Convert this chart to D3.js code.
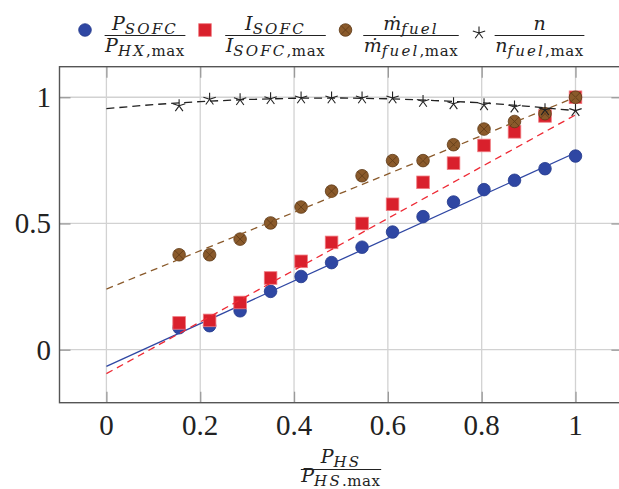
<!DOCTYPE html>
<html><head><meta charset="utf-8">
<script src="https://cdn.jsdelivr.net/npm/d3@7"></script>
<style>body{margin:0;background:#fff}svg{display:block}</style></head>
<body><svg id="c" width="619" height="489"></svg>
<script>
// ---- data ----
const xVals  = [0.155,0.22,0.285,0.35,0.415,0.48,0.545,0.61,0.675,0.74,0.805,0.87,0.935,1.0];
const pSofc  = [0.087,0.095,0.154,0.231,0.290,0.345,0.406,0.466,0.527,0.585,0.634,0.671,0.717,0.767];
const iSofc  = [0.106,0.116,0.187,0.284,0.350,0.425,0.500,0.576,0.663,0.739,0.809,0.863,0.926,1.0];
const mFuel  = [0.376,0.376,0.438,0.502,0.565,0.628,0.689,0.749,0.749,0.812,0.874,0.904,0.935,1.0];
const nRatio = [0.966,0.992,0.990,0.994,0.997,0.997,0.997,0.997,0.983,0.974,0.970,0.961,0.950,0.947];
const fitX   = [0, 1];
const pFit   = [-0.066, 0.78];
const iFit   = [-0.095, 0.93];
const mFit   = [0.24, 1.0];
const nFitX  = [0,0.1,0.2,0.3,0.4,0.5,0.6,0.7,0.8,0.9,1.0];
const nFit   = [0.955,0.971,0.983,0.991,0.996,0.997,0.994,0.987,0.978,0.964,0.947];
const xTicks = [0,0.2,0.4,0.6,0.8,1];
const xTickLabels = ["0","0.2","0.4","0.6","0.8","1"];
const yTicks = [0,0.5,1];
const yTickLabels = ["0","0.5","1"];

const svg = d3.select("#c");
const FONT = "'Liberation Serif','Times New Roman',serif";
const MFONT = "'DejaVu Serif',serif";
const L = 59.5, R = 622.4, T = 66.7, B = 402.7;
const x = d3.scaleLinear().domain([-0.1, 1.1]).range([L, R]);
const y = d3.scaleLinear().domain([-0.21, 1.121]).range([B, T]);

// grid
const grid = svg.append("g");
xTicks.forEach(t => grid.append("line").attr("x1", x(t)).attr("x2", x(t)).attr("y1", T).attr("y2", B)
  .attr("stroke", "#d2d2d2").attr("stroke-width", 1.3));
yTicks.forEach(t => grid.append("line").attr("x1", L).attr("x2", R).attr("y1", y(t)).attr("y2", y(t))
  .attr("stroke", "#d2d2d2").attr("stroke-width", 1.3));

// axes using d3 axis (inner ticks)
const tl = 11;
const axB = svg.append("g").attr("transform", `translate(0,${B})`)
  .call(d3.axisTop(x).tickValues(xTicks).tickSize(tl).tickFormat(""));
const axT = svg.append("g").attr("transform", `translate(0,${T})`)
  .call(d3.axisBottom(x).tickValues(xTicks).tickSize(tl).tickFormat(""));
const axL = svg.append("g").attr("transform", `translate(${L},0)`)
  .call(d3.axisRight(y).tickValues(yTicks).tickSize(tl).tickFormat(""));
const axR = svg.append("g").attr("transform", `translate(${R},0)`)
  .call(d3.axisLeft(y).tickValues(yTicks).tickSize(tl).tickFormat(""));
[axB, axT, axL, axR].forEach(a => { a.select(".domain").remove(); a.selectAll("line").attr("stroke", "#9a9a9a").attr("stroke-width", 1.3); });

// tick labels
svg.append("g").selectAll("text").data(xTicks).join("text")
  .attr("x", d => x(d)).attr("y", 435).attr("text-anchor", "middle")
  .attr("font-family", FONT).attr("font-size", 29).attr("fill", "#222")
  .text((d, i) => xTickLabels[i]);
svg.append("g").selectAll("text").data(yTicks).join("text")
  .attr("x", 51).attr("y", d => y(d) + 10).attr("text-anchor", "end")
  .attr("font-family", FONT).attr("font-size", 29).attr("fill", "#222")
  .text((d, i) => yTickLabels[i]);

// frame
svg.append("rect").attr("x", L).attr("y", T).attr("width", R - L).attr("height", B - T)
  .attr("fill", "none").attr("stroke", "#555").attr("stroke-width", 1.4);

// marker drawers
const BLUE = "#2f47a3", RED = "#d9202c", BROWN = "#8a5a2b";
function circles(g, vals, fill, stroke) {
  g.selectAll(null).data(xVals.map((v, i) => [v, vals[i]])).join("circle")
    .attr("cx", d => x(d[0])).attr("cy", d => y(d[1])).attr("r", 6.3)
    .attr("fill", fill).attr("stroke", stroke).attr("stroke-width", 0.8);
}
function squares(g, vals) {
  g.selectAll(null).data(xVals.map((v, i) => [v, vals[i]])).join("rect")
    .attr("x", d => x(d[0]) - 6.3).attr("y", d => y(d[1]) - 6.3).attr("width", 12.6).attr("height", 12.6)
    .attr("fill", RED).attr("stroke", "#f07a80").attr("stroke-width", 0.8);
}
function otimesMark(sel) {
  sel.append("circle").attr("r", 6.3).attr("fill", BROWN).attr("stroke", "#5e3a16").attr("stroke-width", 0.8);
  const k = 6.3 * 0.707;
  sel.append("path").attr("d", `M${-k},${-k}L${k},${k}M${-k},${k}L${k},${-k}`).attr("stroke", "#5e3a16").attr("stroke-width", 0.8);
}
function otimes(g, vals) {
  const s = g.selectAll(null).data(xVals.map((v, i) => [v, vals[i]])).join("g")
    .attr("transform", d => `translate(${x(d[0])},${y(d[1])})`);
  otimesMark(s);
}
function starPath(r) {
  let d = "";
  for (let k = 0; k < 5; k++) {
    const a = -Math.PI / 2 + k * 2 * Math.PI / 5;
    d += `M0,0L${(r * Math.cos(a)).toFixed(2)},${(r * Math.sin(a)).toFixed(2)}`;
  }
  return d;
}
function stars(g, vals) {
  g.selectAll(null).data(xVals.map((v, i) => [v, vals[i]])).join("path")
    .attr("transform", d => `translate(${x(d[0])},${y(d[1])})`)
    .attr("d", starPath(6.5)).attr("stroke", "#222").attr("stroke-width", 1.1).attr("fill", "none");
}
const line = d3.line().x(d => x(d[0])).y(d => y(d[1]));
function fitLine(g, xs, ys, color, dash) {
  g.append("path").datum(xs.map((v, i) => [v, ys[i]])).attr("d", line)
    .attr("fill", "none").attr("stroke", color).attr("stroke-width", 1.3)
    .attr("stroke-dasharray", dash);
}

const plot = svg.append("g");
circles(plot.append("g"), pSofc, BLUE, "#243a8c");
fitLine(plot, fitX, pFit, BLUE, null);
squares(plot.append("g"), iSofc);
fitLine(plot, fitX, iFit, "#ee2a35", "7,5");
otimes(plot.append("g"), mFuel);
fitLine(plot, fitX, mFit, BROWN, "7,5");
stars(plot.append("g"), nRatio);
fitLine(plot, nFitX, nFit, "#222", "8,5");

// fraction helper
function frac(cx, yNum, yBar, yDen, num, den, fs, sfs) {
  const g = svg.append("g").attr("font-family", MFONT).attr("fill", "#222");
  const drop = 3.5;
  function build(parts, yy) {
    const t = g.append("text").attr("x", cx).attr("y", yy).attr("text-anchor", "middle").attr("font-size", fs);
    let shifted = false;
    parts.forEach(p => {
      const [s, kind] = p;
      const span = t.append("tspan").text(s);
      if (kind === "i") { span.attr("font-style", "italic"); if (shifted) { span.attr("dy", -drop); shifted = false; } }
      else {
        span.attr("font-size", sfs)
          .attr("font-style", kind === "sub" ? "italic" : "normal")
          .attr("letter-spacing", kind === "sub" ? 2.2 : 0.6);
        if (!shifted) { span.attr("dy", drop); shifted = true; }
      }
    });
    return t;
  }
  const a = build(num, yNum), b = build(den, yDen);
  const w = Math.max(a.node().getComputedTextLength(), b.node().getComputedTextLength()) + 1;
  g.append("line").attr("x1", cx - w / 2).attr("x2", cx + w / 2).attr("y1", yBar).attr("y2", yBar)
    .attr("stroke", "#222").attr("stroke-width", 1.1);
}

// legend
const lg = svg.append("g");
lg.append("circle").attr("cx", 85).attr("cy", 30).attr("r", 6.3).attr("fill", BLUE).attr("stroke", "#243a8c").attr("stroke-width", 0.8);
frac(145, 30, 35.5, 52, [["P", "i"], ["SOFC", "sub"]], [["P", "i"], ["HX", "sub"], [",max", "subr"]], 19, 15);
lg.append("rect").attr("x", 205 - 6.3).attr("y", 30 - 6.3).attr("width", 12.6).attr("height", 12.6).attr("fill", RED).attr("stroke", "#f07a80").attr("stroke-width", 0.8);
frac(275.5, 30, 35.5, 52, [["I", "i"], ["SOFC", "sub"]], [["I", "i"], ["SOFC", "sub"], [",max", "subr"]], 19, 15);
otimesMark(lg.append("g").attr("transform", "translate(345.5,30)"));
frac(411, 30, 35.5, 52, [["ṁ", "i"], ["fuel", "sub"]], [["ṁ", "i"], ["fuel", "sub"], [",max", "subr"]], 19, 15);
lg.append("path").attr("transform", "translate(479,33)").attr("d", starPath(6.5)).attr("stroke", "#222").attr("stroke-width", 1.1).attr("fill", "none");
frac(539.5, 30, 35.5, 52, [["n", "i"]], [["n", "i"], ["fuel", "sub"], [",max", "subr"]], 19, 15);

// x-axis title
frac(341, 463, 469.5, 482, [["P", "i"], ["HS", "sub"]], [["P", "i"], ["HS", "sub"], [".max", "subr"]], 19, 15);
</script></body></html>
